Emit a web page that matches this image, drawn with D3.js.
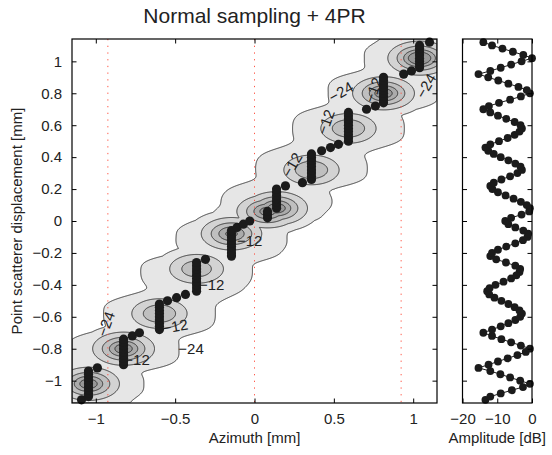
<!DOCTYPE html>
<html>
<head>
<meta charset="utf-8">
<script src="https://cdn.jsdelivr.net/npm/d3@7"></script>
<style>
  body { margin: 0; background: #fff; }
  svg text { font-family: "Liberation Sans", Arial, Helvetica, sans-serif; fill: #222; }
</style>
</head>
<body>
<svg id="chart" width="552" height="455"></svg>
<script>
// Scatterer displacement steps [mm]
const displacement = [
  -1.12, -1.10, -1.08, -1.06, -1.04, -1.02, -1.00, -0.98, -0.96, -0.94, -0.92,
  -0.90, -0.88, -0.86, -0.84, -0.82, -0.80, -0.78, -0.76, -0.74, -0.72, -0.70,
  -0.68, -0.66, -0.64, -0.62, -0.60, -0.58, -0.56, -0.54, -0.52, -0.50, -0.48, -0.46, -0.44,
  -0.42, -0.40, -0.38, -0.36, -0.34, -0.32, -0.30, -0.28, -0.26, -0.24, -0.22,
  -0.20, -0.18, -0.16, -0.14, -0.12, -0.10, -0.08, -0.06, -0.04, -0.02, 0.00,
  0.02, 0.04, 0.06, 0.08, 0.10, 0.12, 0.14, 0.16, 0.18, 0.20, 0.22,
  0.24, 0.26, 0.28, 0.30, 0.32, 0.34, 0.36, 0.38, 0.40, 0.42, 0.44, 0.46,
  0.48, 0.50, 0.52, 0.54, 0.56, 0.58, 0.60, 0.62, 0.64, 0.66, 0.68, 0.70,
  0.72, 0.74, 0.76, 0.78, 0.80, 0.82, 0.84, 0.86, 0.88, 0.90, 0.92,
  0.94, 0.96, 0.98, 1.00, 1.02, 1.04, 1.06, 1.08, 1.10, 1.12
];

// Azimuth of the image maximum for each displacement [mm]
const peakAzimuth = [
  -1.09, -1.046, -1.046, -1.046, -1.046, -1.046, -1.046, -1.046, -1.046, -1.046, -0.99,
  -0.825, -0.825, -0.825, -0.825, -0.825, -0.825, -0.825, -0.825, -0.825, -0.77, -0.725,
  -0.599, -0.599, -0.599, -0.599, -0.599, -0.599, -0.599, -0.599, -0.599, -0.548, -0.491, -0.435, -0.365,
  -0.365, -0.365, -0.365, -0.365, -0.365, -0.365, -0.365, -0.365, -0.365, -0.309, -0.145,
  -0.145, -0.145, -0.145, -0.145, -0.145, -0.145, -0.145, -0.145, -0.11, -0.07, -0.03,
  0.082, 0.082, 0.082, 0.139, 0.139, 0.139, 0.139, 0.139, 0.139, 0.139, 0.195,
  0.302, 0.359, 0.359, 0.359, 0.359, 0.359, 0.359, 0.359, 0.359, 0.359, 0.423, 0.479,
  0.529, 0.592, 0.592, 0.592, 0.592, 0.592, 0.592, 0.592, 0.592, 0.592, 0.592, 0.706,
  0.762, 0.813, 0.813, 0.813, 0.813, 0.813, 0.813, 0.813, 0.813, 0.813, 0.94,
  0.989, 1.04, 1.04, 1.04, 1.04, 1.04, 1.04, 1.04, 1.04, 1.103
];

// Peak amplitude for each displacement [dB]
const amplitudeDb = [
  -13.4, -12, -9, -5.8, -2.6, -0.6, -3.4, -6.3, -9.1, -12, -15.4,
  -12.5, -9.8, -7, -4.2, -1.8, -0.6, -3.2, -6, -8.8, -11.5, -14,
  -11.5, -9, -6.8, -4.8, -3.4, -2.9, -3.6, -5, -6.8, -8.8, -10.8, -12.3, -12.9,
  -12.2, -10.5, -8.2, -6, -4.5, -3.6, -3.4, -4.8, -7.5, -10.3, -12,
  -11.5, -9.8, -7.4, -4.8, -2.6, -1.3, -1.1, -2.5, -4.8, -6.8, -7.7,
  -6, -3, -0.8, -0.6, -1.5, -3.2, -5.3, -7.6, -9.8, -11.4, -12,
  -11, -8.8, -6.3, -4.2, -2.9, -3.3, -4.8, -6.8, -9, -11, -12.6, -13.4,
  -12, -9.5, -7, -5, -3.6, -2.9, -3.3, -5, -7.4, -9.8, -12, -14,
  -12.4, -9.5, -6.3, -3.2, -0.6, -1.5, -3.9, -6.8, -9.7, -12.6, -15.4,
  -12, -9, -6, -3, 0, -2.5, -5.5, -8.5, -11.5, -14
];

const azimuthTicks = [-1, -0.5, 0, 0.5, 1];
const displacementTicks = [-1, -0.8, -0.6, -0.4, -0.2, 0, 0.2, 0.4, 0.6, 0.8, 1];
const amplitudeTicks = [-20, -10, 0];
const beamEdges = [-0.924, 0, 0.924];
const contourLevels = [-24, -12, -6, -3, -1.5];

// Inline contour labels: level text, azimuth, displacement, rotation
const labelText  = ["−24", "−24", "−24", "−24", "−12", "−12", "−12", "−12", "−12", "−12", "−12"];
const labelAz    = [-0.936, -0.40, 0.545, 1.081, -0.50, -0.27, -0.74, 0.45, 0.75, 0.236, -0.03];
const labelDisp  = [-0.645, -0.80, 0.808, 0.846, -0.66, -0.40, -0.87, 0.62, 0.82, 0.351, -0.125];
const labelAngle = [-70, 0, -30, -60, -10, 0, 0, -70, -70, -60, 0];

const svg = d3.select("#chart");
const box = { left: 72, right: 437, top: 39, bottom: 403 };
const side = { left: 462.5, right: 532 };

const x = d3.scaleLinear().domain([-1.15, 1.15]).range([box.left, box.right]);
const y = d3.scaleLinear().domain([-1.14, 1.14]).range([box.bottom, box.top]);
const xa = d3.scaleLinear().domain([-20, 0]).range([side.left, side.right]);
const fmt = d3.format("~g");

// ---- Main lobes: one per receive beam (runs of equal peak azimuth), centred on the strongest step
const lobes = [];
for (let s = 0, k = 1; k <= peakAzimuth.length; k++) {
  if (k === peakAzimuth.length || peakAzimuth[k] !== peakAzimuth[s]) {
    if (k - s >= 3) {
      let best = s;
      for (let m = s; m < k; m++) if (amplitudeDb[m] > amplitudeDb[best]) best = m;
      lobes.push({ az: peakAzimuth[s], d: displacement[best], a: amplitudeDb[best] });
    }
    s = k;
  }
}

// ---- Composite image: lateral response of every displacement step blended along the
// displacement axis (weaker, between-beam responses fall off slower), topped by the beam lobes.
const cell = 1;
const nx = Math.round((box.right - box.left) / cell);
const ny = Math.round((box.bottom - box.top) / cell);
const power = amplitudeDb.map(a => Math.pow(10, a / 10));
const slope = amplitudeDb.map(a => 81 / (1 + 0.06 * -a));   // dB per mm
const core = 0.05, sy = 0.022;
const lobeX = 300, lobeY = 1050;                              // dB per mm^2
const field = new Float64Array(nx * ny);
for (let i = 0; i < ny; i++) {
  const yy = y.invert(box.top + (i + 0.5) * cell);
  const ws = displacement.map(d => { const u = (yy - d) / sy; return Math.abs(u) > 6 ? 0 : Math.exp(-0.5 * u * u); });
  const wsum = d3.sum(ws) || 1e-12;
  for (let j = 0; j < nx; j++) {
    const xx = x.invert(box.left + (j + 0.5) * cell);
    let acc = 0;
    for (let k = 0; k < power.length; k++) {
      if (ws[k] === 0) continue;
      const dx = xx - peakAzimuth[k];
      const drop = slope[k] * (Math.sqrt(dx * dx + core * core) - core);
      acc += ws[k] * power[k] * Math.pow(10, -drop / 10);
    }
    let v = Math.min(10 * Math.log10(acc / wsum + 1e-12), -13);
    for (const L of lobes) {
      const dx = xx - L.az, dy = yy - L.d;
      const lv = L.a - lobeX * dx * dx - lobeY * dy * dy;
      if (lv > v) v = lv;
    }
    field[i * nx + j] = v;
  }
}
const contours = d3.contours().size([nx, ny]).thresholds(contourLevels)(Array.from(field));
const fills = ["#e6e6e6", "#d3d3d3", "#bfbfbf", "#ababab", "#989898"];

svg.append("clipPath").attr("id", "plotClip")
  .append("rect").attr("x", box.left).attr("y", box.top)
  .attr("width", box.right - box.left).attr("height", box.bottom - box.top);

const plot = svg.append("g").attr("clip-path", "url(#plotClip)");
plot.append("g")
  .attr("transform", `translate(${box.left},${box.top}) scale(${cell})`)
  .selectAll("path").data(contours).join("path")
  .attr("d", d3.geoPath())
  .attr("fill", (d, i) => fills[i])
  .attr("stroke", "#2a2a2a")
  .attr("stroke-width", 0.9)
  .attr("vector-effect", "non-scaling-stroke");

// Beam boundaries
plot.selectAll("line.beam").data(beamEdges).join("line")
  .attr("class", "beam")
  .attr("x1", d => x(d)).attr("x2", d => x(d))
  .attr("y1", box.top).attr("y2", box.bottom)
  .attr("stroke", "#ff5a4a").attr("stroke-width", 1)
  .attr("stroke-dasharray", "1.3,5.4");

// Contour labels
plot.selectAll("text.clabel").data(labelText).join("text")
  .attr("class", "clabel")
  .attr("transform", (d, i) => `translate(${x(labelAz[i])},${y(labelDisp[i])}) rotate(${labelAngle[i]})`)
  .attr("text-anchor", "middle").attr("dy", "0.35em")
  .attr("font-size", 15)
  .text(d => d);

// Maxima positions
svg.append("g").selectAll("circle").data(displacement).join("circle")
  .attr("cx", (d, i) => x(peakAzimuth[i]))
  .attr("cy", d => y(d))
  .attr("r", 4.6)
  .attr("fill", "#1b1b1b");

// ---- Axes helpers (inward ticks on all sides)
function styleAxis(g) {
  g.select(".domain").remove();
  g.selectAll(".tick line").attr("stroke", "#000");
  g.selectAll(".tick text").attr("font-size", 15).attr("fill", "#222");
}
const tk = 4.5;
svg.append("g").attr("transform", `translate(0,${box.bottom})`)
  .call(d3.axisBottom(x).tickValues(azimuthTicks).tickSize(-tk).tickPadding(10).tickFormat(fmt))
  .call(styleAxis);
svg.append("g").attr("transform", `translate(0,${box.top})`)
  .call(d3.axisTop(x).tickValues(azimuthTicks).tickSize(-tk).tickFormat(""))
  .call(styleAxis);
svg.append("g").attr("transform", `translate(${box.left},0)`)
  .call(d3.axisLeft(y).tickValues(displacementTicks).tickSize(-tk).tickPadding(10).tickFormat(fmt))
  .call(styleAxis);
svg.append("g").attr("transform", `translate(${box.right},0)`)
  .call(d3.axisRight(y).tickValues(displacementTicks).tickSize(-tk).tickFormat(""))
  .call(styleAxis);
svg.append("rect").attr("x", box.left).attr("y", box.top)
  .attr("width", box.right - box.left).attr("height", box.bottom - box.top)
  .attr("fill", "none").attr("stroke", "#000").attr("stroke-width", 1.2);

// ---- Amplitude panel
const ampLine = d3.line().x((d, i) => xa(amplitudeDb[i])).y(d => y(d));
svg.append("path").datum(displacement)
  .attr("d", ampLine).attr("fill", "none").attr("stroke", "#1b1b1b").attr("stroke-width", 1);
svg.append("g").selectAll("circle").data(displacement).join("circle")
  .attr("cx", (d, i) => xa(amplitudeDb[i]))
  .attr("cy", d => y(d))
  .attr("r", 3.9)
  .attr("fill", "#1b1b1b");

svg.append("g").attr("transform", `translate(0,${box.bottom})`)
  .call(d3.axisBottom(xa).tickValues(amplitudeTicks).tickSize(-tk).tickPadding(10).tickFormat(fmt))
  .call(styleAxis);
svg.append("g").attr("transform", `translate(0,${box.top})`)
  .call(d3.axisTop(xa).tickValues(amplitudeTicks).tickSize(-tk).tickFormat(""))
  .call(styleAxis);
svg.append("g").attr("transform", `translate(${side.left},0)`)
  .call(d3.axisLeft(y).tickValues(displacementTicks).tickSize(-tk).tickFormat(""))
  .call(styleAxis);
svg.append("g").attr("transform", `translate(${side.right},0)`)
  .call(d3.axisRight(y).tickValues(displacementTicks).tickSize(-tk).tickFormat(""))
  .call(styleAxis);
svg.append("rect").attr("x", side.left).attr("y", box.top)
  .attr("width", side.right - side.left).attr("height", box.bottom - box.top)
  .attr("fill", "none").attr("stroke", "#000").attr("stroke-width", 1.2);

// ---- Titles
svg.append("text").attr("x", (box.left + box.right) / 2).attr("y", 23)
  .attr("text-anchor", "middle").attr("font-size", 21).text("Normal sampling + 4PR");
svg.append("text").attr("x", (box.left + box.right) / 2).attr("y", 443)
  .attr("text-anchor", "middle").attr("font-size", 15).text("Azimuth [mm]");
svg.append("text").attr("x", (side.left + side.right) / 2).attr("y", 443)
  .attr("text-anchor", "middle").attr("font-size", 15).text("Amplitude [dB]");
svg.append("text")
  .attr("transform", `translate(22,${(box.top + box.bottom) / 2}) rotate(-90)`)
  .attr("text-anchor", "middle").attr("font-size", 15).text("Point scatterer displacement [mm]");
</script>
</body>
</html>
